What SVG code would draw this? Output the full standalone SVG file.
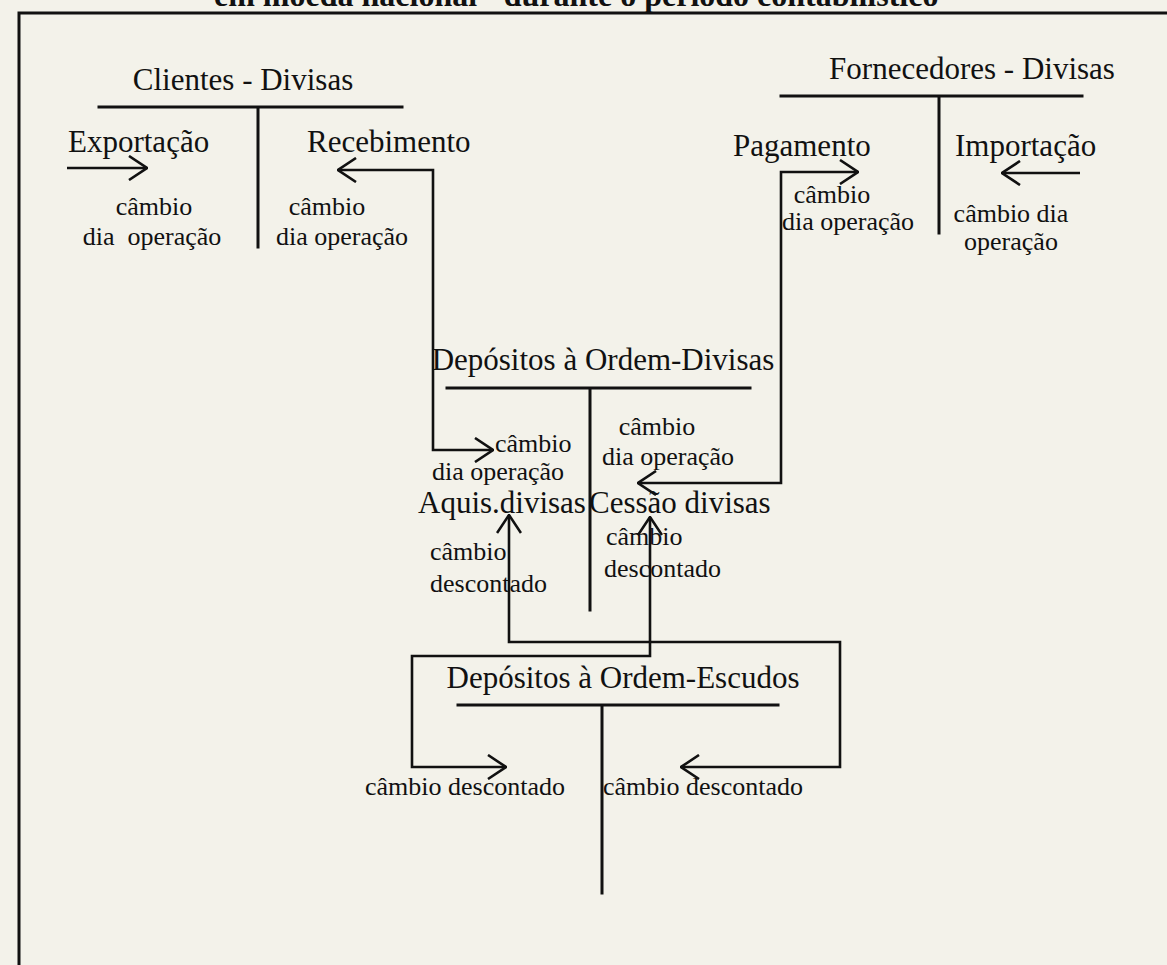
<svg xmlns="http://www.w3.org/2000/svg" width="1167" height="965" viewBox="0 0 1167 965">
<style>
.bg{fill:#f3f2ea}
.t{font-family:"Liberation Serif","Times New Roman",serif;fill:#111}
.big{font-size:31px}
.sm{font-size:26px}
.title{font-size:32px;font-weight:bold}
.ln{stroke:#111;stroke-width:3;fill:none;stroke-linecap:square}
.cn{stroke:#111;stroke-width:2.6;fill:none}
.a2{marker-end:url(#chev)}
.a3{marker-start:url(#chev);marker-end:url(#chev)}
</style>
<defs>
<marker id="chev" viewBox="0 0 20 26" refX="19" refY="13" markerWidth="20" markerHeight="26" markerUnits="userSpaceOnUse" orient="auto-start-reverse">
<path d="M1,1 L19,13 L1,25" fill="none" stroke="#111" stroke-width="2.6"/>
</marker>
</defs>
<rect class="bg" x="0" y="0" width="1167" height="965"/>
<g id="frame">
<text class="t title" x="214" y="6">em moeda nacional - durante o período contabilístico</text>
<path class="ln" d="M19,13 H1167 M19,13 V965"/>
</g>
<g id="clientes-divisas">
<text class="t big" x="243" y="90" text-anchor="middle">Clientes - Divisas</text>
<path class="ln" d="M99,107 H402 M258,107 V247"/>
</g>
<g id="fornecedores-divisas">
<text class="t big" x="972" y="79" text-anchor="middle">Fornecedores - Divisas</text>
<path class="ln" d="M781,96 H1082 M939,96 V233"/>
</g>
<g id="exportacao"><text class="t big" x="68" y="152">Exportação</text></g>
<g id="recebimento"><text class="t big" x="307" y="152">Recebimento</text></g>
<g id="pagamento"><text class="t big" x="733" y="156">Pagamento</text></g>
<g id="importacao"><text class="t big" x="955" y="156">Importação</text></g>
<g id="depositos-divisas">
<text class="t big" x="603" y="370" text-anchor="middle">Depósitos à Ordem-Divisas</text>
<path class="ln" d="M447,388 H750 M590,388 V610"/>
</g>
<g id="aquis-divisas"><text class="t big" x="418" y="513">Aquis.divisas</text></g>
<g id="cessao-divisas"><text class="t big" x="589" y="513">Cessão divisas</text></g>
<g id="depositos-escudos">
<text class="t big" x="623" y="688" text-anchor="middle">Depósitos à Ordem-Escudos</text>
<path class="ln" d="M458,705 H778 M602,705 V893"/>
</g>
<g id="connectors">
<path class="cn a2" d="M67,168 H147"/>
<path class="cn a3" d="M338,170 H433 V450 H493"/>
<path class="cn a3" d="M858,172 H781 V483 H638"/>
<path class="cn a2" d="M1080,173 H1002"/>
<path class="cn a3" d="M509,515 V642 H840 V767 H681"/>
<path class="cn a3" d="M650,517 V656 H412 V767 H506"/>
</g>
<g id="labels">
<text class="t sm" x="154" y="215" text-anchor="middle">câmbio</text>
<text class="t sm" x="152" y="245" text-anchor="middle" xml:space="preserve">dia  operação</text>
<text class="t sm" x="327" y="215" text-anchor="middle">câmbio</text>
<text class="t sm" x="342" y="245" text-anchor="middle">dia operação</text>
<text class="t sm" x="832" y="203" text-anchor="middle">câmbio</text>
<text class="t sm" x="848" y="230" text-anchor="middle">dia operação</text>
<text class="t sm" x="1011" y="222" text-anchor="middle">câmbio dia</text>
<text class="t sm" x="1011" y="250" text-anchor="middle">operação</text>
<text class="t sm" x="495" y="452">câmbio</text>
<text class="t sm" x="432" y="480">dia operação</text>
<text class="t sm" x="657" y="435" text-anchor="middle">câmbio</text>
<text class="t sm" x="668" y="465" text-anchor="middle">dia operação</text>
<text class="t sm" x="430" y="560">câmbio</text>
<text class="t sm" x="430" y="592">descontado</text>
<text class="t sm" x="606" y="545">câmbio</text>
<text class="t sm" x="604" y="577">descontado</text>
<text class="t sm" x="465" y="795" text-anchor="middle">câmbio descontado</text>
<text class="t sm" x="703" y="795" text-anchor="middle">câmbio descontado</text>
</g>
</svg>
